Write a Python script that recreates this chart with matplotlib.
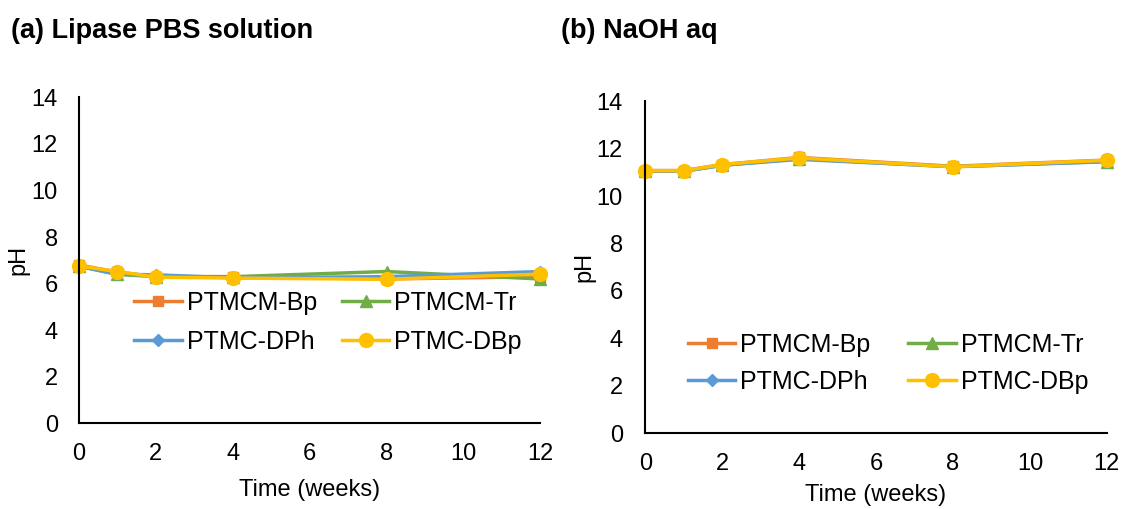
import numpy as np
import matplotlib.pyplot as plt

plt.rcParams['font.family'] = ['Liberation Sans', 'DejaVu Sans']

# Donnees
weeks = [0, 1, 2, 4, 8, 12]
series_names = ["PTMCM-Bp", "PTMCM-Tr", "PTMC-DPh", "PTMC-DBp"]

# (a) Lipase PBS solution
lipase_bp = [6.80, 6.50, 6.30, 6.30, 6.20, 6.30]
lipase_tr = [6.75, 6.40, 6.30, 6.30, 6.52, 6.20]
lipase_dph = [6.75, 6.40, 6.38, 6.25, 6.30, 6.52]
lipase_dbp = [6.76, 6.52, 6.28, 6.24, 6.19, 6.41]

# (b) NaOH aq
naoh_bp = [11.08, 11.08, 11.33, 11.63, 11.26, 11.52]
naoh_tr = [11.05, 11.05, 11.30, 11.58, 11.24, 11.46]
naoh_dph = [11.05, 11.05, 11.30, 11.55, 11.24, 11.45]
naoh_dbp = [11.07, 11.07, 11.33, 11.61, 11.24, 11.51]

colors = ["#ED7D31", "#70AD47", "#5B9BD5", "#FFC000"]
markers = ["s", "^", "D", "o"]
msizes = [7, 8, 6, 10]


def draw_panel(ax, data, legend_anchor, lspacing, cspacing, xlpad, ypad, ylpad):
    lines = []
    for vals, name, c, m, ms in zip(data, series_names, colors, markers, msizes):
        ln, = ax.plot(weeks, vals, color=c, marker=m, markersize=ms,
                      lw=2.5, label=name, clip_on=False)
        lines.append(ln)
    ax.set_xlim(0, 12)
    ax.set_ylim(0, 14)
    ax.set_xticks(range(0, 13, 2))
    ax.set_yticks(range(0, 15, 2))
    ax.tick_params(length=0, labelsize=17)
    ax.tick_params(axis="x", pad=14)
    ax.tick_params(axis="y", pad=ypad)
    for s in ["top", "right"]:
        ax.spines[s].set_visible(False)
    for s in ["left", "bottom"]:
        ax.spines[s].set_linewidth(1.5)
    ax.set_xlabel("Time (weeks)", fontsize=17, labelpad=xlpad)
    ax.set_ylabel("pH", fontsize=17, labelpad=ylpad)
    # ordre ligne par ligne: Bp, Tr / DPh, DBp
    order = [0, 2, 1, 3]
    ax.legend([lines[i] for i in order], [series_names[i] for i in order],
              ncol=2, frameon=False, fontsize=18, loc="center",
              bbox_to_anchor=legend_anchor, handlelength=1.9,
              handletextpad=0.2, columnspacing=cspacing,
              labelspacing=lspacing)


fig = plt.figure(figsize=(11.26, 5.09), dpi=100)
ax1 = fig.add_axes([0.070, 0.168, 0.410, 0.641])
ax2 = fig.add_axes([0.573, 0.149, 0.410, 0.652])

draw_panel(ax1, [lipase_bp, lipase_tr, lipase_dph, lipase_dbp],
           (0.54, 0.31), 0.6, 1.0, 10, 15, 2)
draw_panel(ax2, [naoh_bp, naoh_tr, naoh_dph, naoh_dbp],
           (0.526, 0.21), 0.5, 1.5, 7, 16, 1)

fig.text(0.010, 0.94, "(a) Lipase PBS solution", fontsize=19.5,
         fontweight="bold", va="center")
fig.text(0.498, 0.94, "(b) NaOH aq", fontsize=19.5,
         fontweight="bold", va="center")

fig.savefig("out.png", dpi=100)
